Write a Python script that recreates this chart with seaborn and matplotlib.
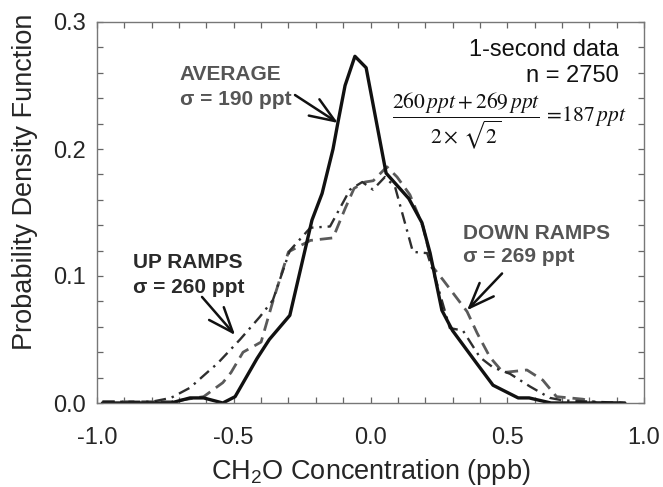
import matplotlib
matplotlib.use("Agg")
import matplotlib.pyplot as plt
import seaborn as sns
from matplotlib.ticker import MultipleLocator

# ---- data ----
avg_x = [-0.98, -0.73, -0.66, -0.61, -0.54, -0.495, -0.415, -0.37, -0.295, -0.214,
         -0.177, -0.137, -0.119, -0.093, -0.057, -0.016, 0.057, 0.140, 0.188, 0.218,
         0.261, 0.300, 0.389, 0.448, 0.540, 0.580, 0.660, 0.930]
avg_y = [0.0, 0.0, 0.004, 0.004, 0.0, 0.005, 0.035, 0.050, 0.069, 0.144,
         0.165, 0.200, 0.221, 0.250, 0.273, 0.264, 0.181, 0.161, 0.142, 0.118,
         0.073, 0.057, 0.031, 0.014, 0.004, 0.004, 0.0, 0.0]

down_x = [-0.98, -0.73, -0.61, -0.54, -0.51, -0.466, -0.40, -0.357, -0.300, -0.220,
          -0.137, -0.093, -0.060, -0.020, 0.010, 0.060, 0.097, 0.144, 0.192, 0.228,
          0.265, 0.353, 0.390, 0.437, 0.485, 0.572, 0.630, 0.680, 0.777, 0.830, 0.930]
down_y = [0.001, 0.001, 0.005, 0.016, 0.024, 0.040, 0.048, 0.080, 0.119, 0.128,
          0.130, 0.153, 0.169, 0.174, 0.175, 0.186, 0.178, 0.164, 0.139, 0.107,
          0.097, 0.072, 0.055, 0.036, 0.024, 0.026, 0.018, 0.005, 0.003, 0.0, 0.0]

up_x = [-0.98, -0.80, -0.73, -0.66, -0.587, -0.56, -0.477, -0.404, -0.357, -0.295,
        -0.220, -0.148, -0.075, -0.030, 0.009, 0.053, 0.090, 0.155, 0.207, 0.243,
        0.290, 0.338, 0.400, 0.448, 0.510, 0.583, 0.656, 0.705, 0.930]
up_y = [0.001, 0.001, 0.004, 0.012, 0.026, 0.031, 0.050, 0.068, 0.081, 0.120,
        0.138, 0.139, 0.168, 0.174, 0.168, 0.178, 0.170, 0.119, 0.118, 0.094,
        0.059, 0.057, 0.036, 0.028, 0.023, 0.013, 0.004, 0.002, 0.0]

x_ticks = [-1.0, -0.5, 0.0, 0.5, 1.0]
y_ticks = [0.0, 0.1, 0.2, 0.3]

# ---- style ----
sns.set_style("ticks")
plt.rcParams['font.family'] = ['Liberation Sans', 'DejaVu Sans']
plt.rcParams['mathtext.fontset'] = 'custom'
plt.rcParams['mathtext.rm'] = 'Liberation Sans'
plt.rcParams['mathtext.it'] = 'Liberation Sans:italic'
plt.rcParams['mathtext.bf'] = 'Liberation Sans:bold'

fig = plt.figure(figsize=(6.63, 4.87), dpi=100)
ax = fig.add_axes([97 / 663, (487 - 403) / 487, (644 - 97) / 663, (403 - 22) / 487])

sns.lineplot(x=down_x, y=down_y, ax=ax, sort=False, color='#5a5a5a', lw=2.0,
             linestyle=(0, (4.5, 2.5)))
sns.lineplot(x=up_x, y=up_y, ax=ax, sort=False, color='#2e2e2e', lw=1.7,
             linestyle=(0, (5, 2.5, 1, 2.5)))
sns.lineplot(x=avg_x, y=avg_y, ax=ax, sort=False, color='#111111', lw=2.4)

ax.set_xlim(-1.0, 1.0)
ax.set_ylim(0.0, 0.3)
ax.set_xticks(x_ticks)
ax.set_xticklabels([f"{v:.1f}" for v in x_ticks])
ax.set_yticks(y_ticks)
ax.set_yticklabels([f"{v:.1f}" for v in y_ticks])
ax.xaxis.set_minor_locator(MultipleLocator(0.1))
ax.yaxis.set_minor_locator(MultipleLocator(0.02))
ax.tick_params(which='both', direction='in', top=True, right=True,
               length=4, width=0.9, color='#666666')
ax.tick_params(axis='x', which='major', labelsize=17, pad=17)
ax.tick_params(axis='y', which='major', labelsize=17, pad=8)
for s in ax.spines.values():
    s.set_color('#777777')
    s.set_linewidth(1.0)

ax.set_xlabel("CH$_2$O Concentration (ppb)", fontsize=19.5)
ax.set_ylabel("Probability Density Function", fontsize=19.5)
ax.xaxis.set_label_coords(0.5, -0.143)
ax.yaxis.set_label_coords(-0.108, 0.58)

# ---- annotations ----
lab = dict(fontsize=15, fontweight='bold', ha='left', va='baseline')
ax.text(-0.697, 0.254, "AVERAGE", color='#555555', **lab)
ax.text(-0.697, 0.235, "σ = 190 ppt", color='#555555', **lab)
ax.text(-0.868, 0.106, "UP RAMPS", color='#2a2a2a', **lab)
ax.text(-0.868, 0.0866, "σ = 260 ppt", color='#2a2a2a', **lab)
ax.text(0.338, 0.129, "DOWN RAMPS", color='#555555', **lab)
ax.text(0.338, 0.111, "σ = 269 ppt", color='#555555', **lab)

ax.text(0.909, 0.273, "1-second data", fontsize=17, ha='right', va='baseline',
        color='#111111')
ax.text(0.909, 0.253, "n = 2750", fontsize=17, ha='right', va='baseline',
        color='#111111')
ax.text(0.508, 0.222, r"$\dfrac{260\,ppt + 269\,ppt}{2\times\,\sqrt{2}}\,=\!187\,ppt$",
        fontsize=15.5, ha='center', va='center', color='#111111',
        math_fontfamily='stix')

arrow = dict(arrowstyle='->,head_length=0.9,head_width=0.35', lw=1.8,
             color='#111111', shrinkA=0, shrinkB=0, mutation_scale=20)
ax.annotate("", xy=(-0.119, 0.2205), xytext=(-0.276, 0.2425), arrowprops=arrow)
ax.annotate("", xy=(-0.495, 0.0535), xytext=(-0.616, 0.0835), arrowprops=arrow)
ax.annotate("", xy=(0.353, 0.073), xytext=(0.481, 0.102), arrowprops=arrow)

fig.savefig("out.png", dpi=100)
